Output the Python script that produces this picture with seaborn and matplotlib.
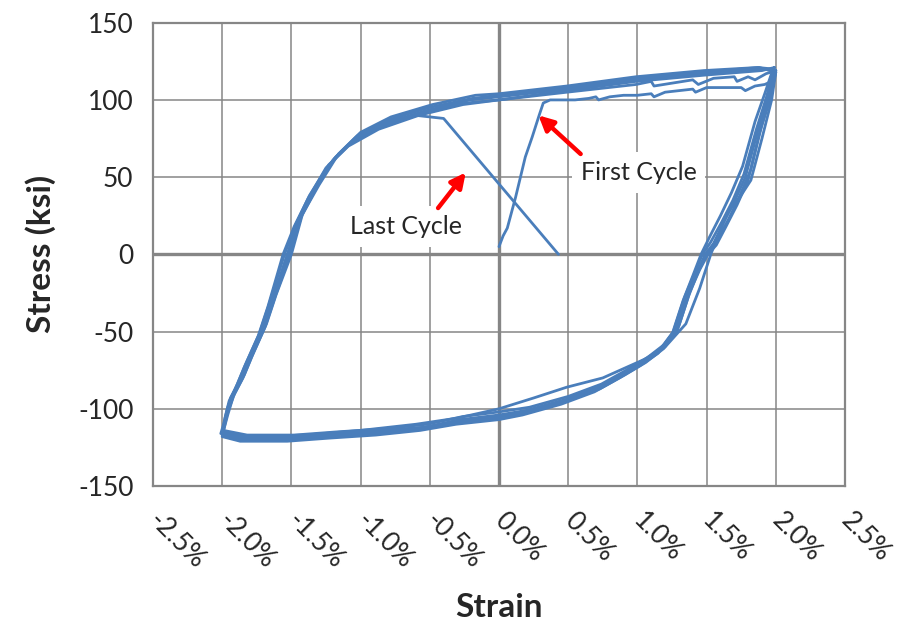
import matplotlib
matplotlib.use("Agg")
import matplotlib.pyplot as plt
import seaborn as sns
import pandas as pd

# ---- hysteresis record: strain in %, stress in ksi ----
loop1_strain = [2.00, 1.94, 1.87, 1.78, 1.70, 1.62, 1.55, 1.49, 1.43, 1.36, 1.28, 1.18, 1.05, 0.90, 0.72, 0.48, 0.20, 0.00,
                -0.28, -0.54, -0.86, -1.20, -1.50, -1.84, -2.00,
                -1.97, -1.94, -1.87, -1.81, -1.71, -1.64, -1.53, -1.45, -1.34, -1.20, -1.04, -0.82, -0.53, -0.21, 0.00,
                0.49, 0.99, 1.48, 1.89, 2.00]
loop1_stress = [119, 100, 80, 50, 34, 20, 7, 0, -12, -26, -48, -60, -69, -77, -86, -94, -101, -104,
                -107, -112, -114, -116, -118, -118, -115,
                -105, -93, -82, -69, -49, -30, 0, 22, 41, 61, 75, 85, 93, 100, 102,
                107, 113, 117, 120, 119]

loop2_strain = [1.99, 1.93, 1.86, 1.77, 1.69, 1.61, 1.53, 1.47, 1.41, 1.34, 1.26, 1.16, 1.03, 0.88, 0.70, 0.46, 0.18, 0.00,
                -0.30, -0.56, -0.88, -1.22, -1.52, -1.85, -2.00,
                -1.98, -1.95, -1.89, -1.83, -1.73, -1.66, -1.55, -1.47, -1.37, -1.23, -1.07, -0.85, -0.56, -0.24, 0.00,
                0.49, 0.99, 1.48, 1.90, 1.99]
loop2_stress = [121, 101, 81, 52, 35, 21, 8, 0, -13, -28, -50, -62, -70, -79, -88, -96, -103, -106,
                -109, -113, -116, -118, -120, -120, -117,
                -106, -95, -84, -71, -51, -32, 0, 19, 38, 58, 72, 83, 91, 98, 100,
                106, 112, 116, 119, 121]

loop3_strain = [2.00, 1.95, 1.88, 1.80, 1.72, 1.64, 1.57, 1.51, 1.45, 1.38, 1.30, 1.20, 1.07, 0.92, 0.74, 0.50, 0.22, 0.00,
                -0.26, -0.52, -0.84, -1.18, -1.48, -1.82, -1.99,
                -1.96, -1.92, -1.85, -1.79, -1.69, -1.62, -1.51, -1.43, -1.32, -1.18, -1.02, -0.80, -0.51, -0.19, 0.00,
                0.49, 0.99, 1.48, 1.88, 2.00]
loop3_stress = [118, 98, 78, 48, 32, 18, 6, 0, -10, -24, -46, -58, -67, -75, -84, -92, -99, -102,
                -105, -110, -113, -115, -117, -117, -114,
                -104, -92, -80, -67, -47, -28, 0, 24, 43, 63, 77, 87, 95, 101, 103,
                108, 114, 118, 121, 118]

loop4_strain = [2.00, 1.96, 1.90, 1.82, 1.74, 1.66, 1.58, 1.50, 1.44, 1.37, 1.29, 1.19, 1.06, 0.91, 0.73, 0.49, 0.21, 0.00,
                -0.29, -0.55, -0.87, -1.21, -1.51, -1.86, -2.01,
                -1.99, -1.96, -1.90, -1.84, -1.74, -1.67, -1.56, -1.48, -1.38, -1.25, -1.09, -0.87, -0.58, -0.26, 0.00,
                0.49, 0.99, 1.10, 1.12, 1.40, 1.44, 1.55, 1.70, 1.72, 1.80, 1.85, 1.93, 2.00]
loop4_stress = [119, 102, 84, 55, 38, 23, 10, 0, -11, -27, -49, -61, -70, -78, -87, -95, -102, -105,
                -108, -112, -115, -117, -119, -119, -116,
                -110, -99, -86, -73, -53, -34, 0, 18, 36, 56, 70, 81, 90, 97, 100,
                105, 110, 112, 109, 113, 110, 114, 115, 112, 115, 113, 117, 119]

loop5_strain = [1.98, 1.92, 1.85, 1.76, 1.68, 1.60, 1.52, 1.46, 1.40, 1.33, 1.25, 1.15, 1.02, 0.87, 0.69, 0.45, 0.17, 0.00,
                -0.31, -0.57, -0.89, -1.23, -1.53, -1.87, -2.00,
                -1.96, -1.91, -1.84, -1.78, -1.68, -1.61, -1.50, -1.42, -1.30, -1.16, -1.00, -0.78, -0.48, -0.17, 0.00,
                0.49, 0.99, 1.48, 1.87, 1.98]
loop5_stress = [120, 104, 86, 57, 40, 25, 11, 0, -14, -30, -52, -64, -72, -80, -89, -97, -104, -107,
                -110, -114, -117, -119, -121, -121, -118,
                -102, -90, -78, -65, -45, -26, 0, 26, 45, 65, 79, 89, 97, 103, 104,
                109, 115, 119, 121, 120]

# initial monotonic loading and its unloading branch
first_strain = [0.00, 0.03, 0.06, 0.12, 0.19, 0.24, 0.29, 0.32, 0.37, 0.45, 0.55, 0.65, 0.70, 0.72, 0.80, 0.90,
                1.00, 1.10, 1.12, 1.20, 1.30, 1.40, 1.42, 1.50, 1.60, 1.75, 1.78, 1.85, 1.92, 1.97, 2.00,
                1.97, 1.90, 1.82, 1.74, 1.65, 1.53, 1.45, 1.35, 1.20, 1.05, 0.90, 0.75, 0.49, 0.25, 0.00,
                -0.30, -0.60, -1.00, -1.40, -1.80, -2.00]
first_stress = [5, 12, 17, 37, 63, 76, 90, 98, 100, 100, 100, 101, 102, 100, 102, 103,
                103, 104, 102, 105, 106, 107, 105, 108, 108, 108, 106, 109, 110, 112, 118,
                100, 75, 48, 37, 27, 0, -22, -45, -60, -68, -74, -80, -86, -93, -100,
                -106, -110, -114, -117, -118, -116]

# final reloading, ending in the fracture drop
last_strain = [-2.00, -1.97, -1.93, -1.86, -1.80, -1.70, -1.63, -1.52, -1.44, -1.33, -1.19, -1.03, -0.81, -0.60, -0.40, 0.43]
last_stress = [-116, -104, -92, -81, -68, -48, -29, 0, 23, 42, 62, 76, 86, 90, 88, 0]

xtick_values = [-2.5, -2.0, -1.5, -1.0, -0.5, 0.0, 0.5, 1.0, 1.5, 2.0, 2.5]
ytick_values = [-150, -100, -50, 0, 50, 100, 150]

series = {
    "loop1": (loop1_strain, loop1_stress),
    "loop2": (loop2_strain, loop2_stress),
    "loop3": (loop3_strain, loop3_stress),
    "loop4": (loop4_strain, loop4_stress),
    "loop5": (loop5_strain, loop5_stress),
    "first": (first_strain, first_stress),
    "last": (last_strain, last_stress),
}
frames = []
for name, (sx, sy) in series.items():
    frames.append(pd.DataFrame({"strain": sx, "stress": sy, "cycle": name}))
df = pd.concat(frames, ignore_index=True)

sns.set_theme(style="white")
plt.rcParams["font.family"] = ["Lato", "DejaVu Sans"]

LINE = "#4A7EBB"
GRID = "#868686"

fig = plt.figure(figsize=(9.02, 6.34), dpi=100)
ax = fig.add_axes([0.1696, 0.2334, 0.7672, 0.7308])

sns.lineplot(data=df, x="strain", y="stress", units="cycle", estimator=None,
             sort=False, color=LINE, lw=2.0, ax=ax, zorder=4, legend=False)

ax.set_xlim(-2.5, 2.5)
ax.set_ylim(-150, 150)
ax.set_xticks(xtick_values)
ax.set_yticks(ytick_values)
ax.set_xticklabels([f"{v:.1f}%" for v in xtick_values], rotation=-45,
                   ha="left", va="center", rotation_mode="anchor", fontsize=19)
ax.set_yticklabels([str(v) for v in ytick_values], fontsize=19)
ax.tick_params(axis="both", length=0)
ax.tick_params(axis="x", pad=22)
ax.tick_params(axis="y", pad=14)

ax.grid(True, color=GRID, lw=1.1)
ax.set_axisbelow(True)
ax.axhline(0, color=GRID, lw=2.4, zorder=1.5)
ax.axvline(0, color=GRID, lw=2.4, zorder=1.5)
for s in ax.spines.values():
    s.set_color(GRID)
    s.set_linewidth(1.6)

ax.set_xlabel("Strain", fontsize=24, fontweight="bold", labelpad=14)
ax.set_ylabel("Stress (ksi)", fontsize=24, fontweight="bold", labelpad=16)

box = dict(boxstyle="square,pad=0.35", fc="white", ec="none")
arrow = dict(arrowstyle="-|>", color="red", lw=3.2, mutation_scale=22, shrinkA=0, shrinkB=0)
ax.text(1.01, 53, "First Cycle", fontsize=18, ha="center", va="center", bbox=box, zorder=3)
ax.annotate("", xy=(0.285, 90), xytext=(0.59, 65), arrowprops=arrow, zorder=6)
ax.text(-0.675, 18, "Last Cycle", fontsize=18, ha="center", va="center", bbox=box, zorder=3)
ax.annotate("", xy=(-0.24, 53), xytext=(-0.44, 30), arrowprops=arrow, zorder=6)

fig.savefig("out.png", dpi=100)
